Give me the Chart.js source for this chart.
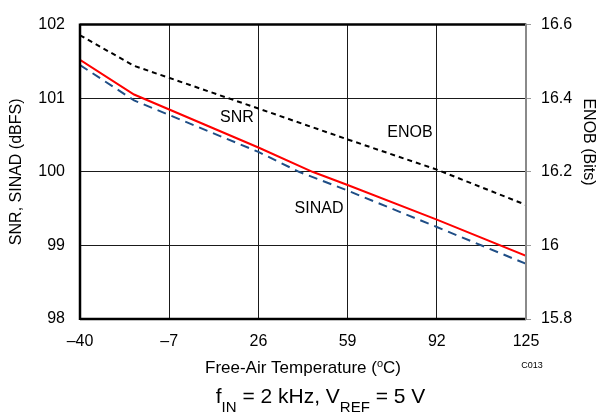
<!DOCTYPE html>
<html>
<head>
<meta charset="utf-8">
<script src="https://cdn.jsdelivr.net/npm/chart.js@4.4.0/dist/chart.umd.min.js"></script>
<style>
html,body{margin:0;padding:0;background:#fff;}
#wrap{width:597px;height:417px;position:relative;}
</style>
</head>
<body>
<div id="wrap"><canvas id="c" width="597" height="417"></canvas></div>
<script>
// ---- data ----
const xTicks = [-40, -7, 26, 59, 92, 125];
const yLeftTicks = [98, 99, 100, 101, 102];
const yRightTicks = [15.8, 16, 16.2, 16.4, 16.6];

const snrTemp = [-40, -20, 26, 46, 59, 92, 125];
const snrVal  = [101.52, 101.05, 100.33, 100.0, 99.82, 99.35, 98.86];

const sinadTemp = [-40, -20, 26, 41, 59, 92, 125];
const sinadVal  = [101.45, 100.97, 100.27, 100.0, 99.745, 99.25, 98.75];

const enobTemp = [-40, -20, 26, 59, 92, 125];
const enobVal  = [16.571, 16.488, 16.372, 16.288, 16.206, 16.11];

const FONT = '"Liberation Sans", Arial, Helvetica, sans-serif';
const pts = (xs, ys) => xs.map((x, i) => ({x: x, y: ys[i]}));

const textPlugin = {
  id: 'texts',
  afterDraw(chart) {
    const ctx = chart.ctx;
    const a = chart.chartArea;
    ctx.save();
    // borders
    ctx.lineCap = 'butt';
    ctx.strokeStyle = '#000';
    ctx.lineWidth = 2.5;
    ctx.beginPath();
    ctx.moveTo(a.left, a.top); ctx.lineTo(a.right, a.top);
    ctx.moveTo(a.left, a.bottom); ctx.lineTo(a.right, a.bottom);
    ctx.moveTo(a.left, a.top - 1); ctx.lineTo(a.left, a.bottom + 1);
    ctx.stroke();
    ctx.strokeStyle = '#8a8a8a';
    ctx.lineWidth = 2;
    ctx.beginPath();
    ctx.moveTo(a.right, a.top - 1); ctx.lineTo(a.right, a.bottom + 1);
    ctx.stroke();

    ctx.fillStyle = '#000';
    ctx.textAlign = 'center';
    ctx.textBaseline = 'middle';
    ctx.font = '16px ' + FONT;
    ctx.fillText('SNR', 237, 118);
    ctx.fillText('ENOB', 410, 133);
    ctx.fillText('SINAD', 319, 209);

    // left axis title
    ctx.save();
    ctx.translate(17, (a.top + a.bottom) / 2);
    ctx.rotate(-Math.PI / 2);
    ctx.font = '16px ' + FONT;
    ctx.fillText('SNR, SINAD (dBFS)', 0, 0);
    ctx.restore();

    // right axis title
    ctx.save();
    ctx.translate(588, 142);
    ctx.rotate(Math.PI / 2);
    ctx.font = '16px ' + FONT;
    ctx.fillText('ENOB (Bits)', 0, 0);
    ctx.restore();

    // x axis title with superscript o
    ctx.textBaseline = 'alphabetic';
    ctx.textAlign = 'left';
    const f1 = '17px ' + FONT, fs = '11px ' + FONT;
    const p1 = 'Free-Air Temperature (', p2 = 'o', p3 = 'C)';
    ctx.font = f1; const w1 = ctx.measureText(p1).width, w3 = ctx.measureText(p3).width;
    ctx.font = fs; const w2 = ctx.measureText(p2).width;
    let x = (a.left + a.right) / 2 - (w1 + w2 + w3) / 2;
    const by = 373;
    ctx.font = f1; ctx.fillText(p1, x, by); x += w1;
    ctx.font = fs; ctx.fillText(p2, x, by - 6); x += w2;
    ctx.font = f1; ctx.fillText(p3, x, by);

    // C013
    ctx.font = '9px ' + FONT;
    ctx.textAlign = 'center';
    ctx.fillText('C013', 532, 368);

    // caption
    const parts = [['f', 0], ['IN', 1], [' = 2 kHz, V', 0], ['REF', 1], [' = 5 V', 0]];
    const fm = '21px ' + FONT, fsub = '15px ' + FONT;
    let tw = 0;
    parts.forEach(p => { ctx.font = p[1] ? fsub : fm; tw += ctx.measureText(p[0]).width; });
    x = 320.5 - tw / 2;
    ctx.textAlign = 'left';
    const cy = 403;
    parts.forEach(p => {
      ctx.font = p[1] ? fsub : fm;
      ctx.fillText(p[0], x, p[1] ? cy + 9 : cy);
      x += ctx.measureText(p[0]).width;
    });
    ctx.restore();
  }
};

new Chart(document.getElementById('c'), {
  type: 'line',
  data: {
    datasets: [
      { label: 'ENOB', data: pts(enobTemp, enobVal), yAxisID: 'y2',
        borderColor: '#000', borderWidth: 2, borderDash: [5, 4], pointRadius: 0, tension: 0, fill: false },
      { label: 'SINAD', data: pts(sinadTemp, sinadVal), yAxisID: 'y',
        borderColor: '#1f4e86', borderWidth: 2, borderDash: [9, 6], pointRadius: 0, tension: 0, fill: false },
      { label: 'SNR', data: pts(snrTemp, snrVal), yAxisID: 'y',
        borderColor: '#ff0000', borderWidth: 2, pointRadius: 0, tension: 0, fill: false }
    ]
  },
  options: {
    responsive: false,
    animation: false,
    events: [],
    layout: { padding: { top: 15, left: 0, right: 0, bottom: 0 } },
    plugins: { legend: { display: false }, tooltip: { enabled: false }, title: { display: false } },
    scales: {
      x: {
        type: 'linear', min: -40, max: 125,
        afterBuildTicks: s => { s.ticks = xTicks.map(v => ({value: v})); },
        afterFit: s => { s.height = 98; },
        grid: { color: '#1a1a1a', lineWidth: 1, drawTicks: false },
        border: { display: false },
        ticks: { font: { size: 16, family: FONT }, color: '#000', padding: 13, maxRotation: 0,
          callback: v => v < 0 ? '\u2013' + Math.abs(v) : String(v) }
      },
      y: {
        type: 'linear', position: 'left', min: 98, max: 102,
        afterBuildTicks: s => { s.ticks = yLeftTicks.map(v => ({value: v})); },
        afterFit: s => { s.width = 80; },
        grid: { color: '#1a1a1a', lineWidth: 1, drawTicks: false },
        border: { display: false },
        ticks: { font: { size: 16, family: FONT }, color: '#000', padding: 15, callback: v => String(v) }
      },
      y2: {
        type: 'linear', position: 'right', min: 15.8, max: 16.6,
        afterBuildTicks: s => { s.ticks = yRightTicks.map(v => ({value: v})); },
        afterFit: s => { s.width = 71; },
        grid: { drawOnChartArea: false, color: '#9a9a9a', lineWidth: 1, drawTicks: true, tickLength: 5 },
        border: { display: false },
        ticks: { font: { size: 16, family: FONT }, color: '#000', padding: 10,
          callback: v => String(Math.round(v * 10) / 10) }
      }
    }
  },
  plugins: [textPlugin]
});
</script>
</body>
</html>
